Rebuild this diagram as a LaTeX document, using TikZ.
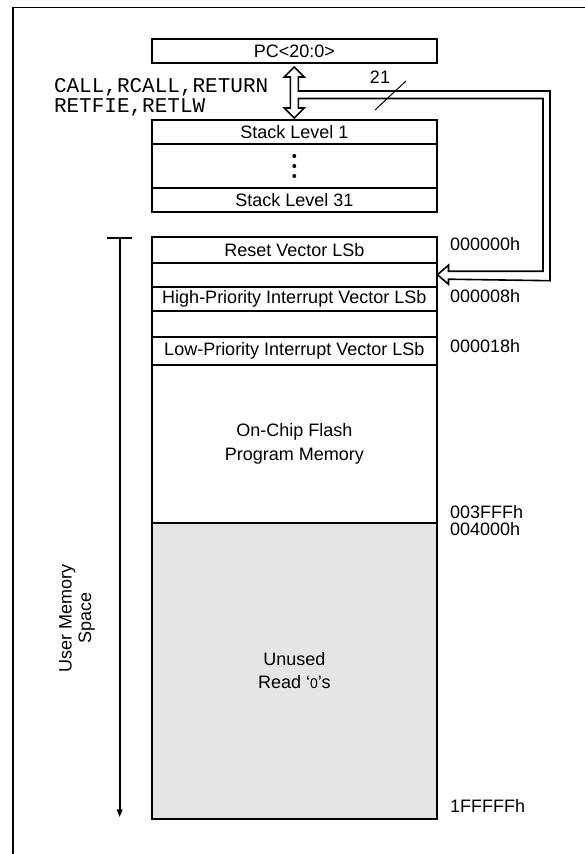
\documentclass[tikz,border=0pt]{standalone}
\usepackage{fontspec}
\setmainfont{Liberation Sans}
\newfontfamily\monofont{Liberation Mono}
\usetikzlibrary{arrows.meta,calc}
\definecolor{unusedgray}{RGB}{229,229,229}
\begin{document}
\begin{tikzpicture}[x=1pt,y=-1pt,
  every node/.style={inner sep=0pt, outer sep=0pt, font=\fontsize{18pt}{22pt}\selectfont},
  cell/.style={draw, line width=1.8pt, minimum width=285.3pt, anchor=north, align=center},
  addr/.style={anchor=west},
  bus/.style={line width=1.6pt, line join=miter},
  frameline/.style={line width=1.7pt}]
\useasboundingbox (0,0) rectangle (585,854);
% frame
\draw[frameline] (13,854) -- (13,7.5) -- (585,7.5);
% PC and stack
\node[cell, minimum height=24.3pt] (pc) at (294.3,39) {PC<20:0>};
\node[cell, minimum height=24.3pt] (s1) at (294.3,120) {Stack Level 1};
\node[cell, minimum height=43.4pt] (s2) at (s1.south) {};
\node[cell, minimum height=24.3pt] (s3) at (s2.south) {Stack Level 31};
\foreach \dy [count=\i] in {-10,0,10}
  \fill ($(s2.center)+(0,\dy)$) circle (2pt);
% label
\node[anchor=west, align=left, font=\monofont\fontsize{21pt}{20pt}\selectfont] (ops) at (54,97) {CALL,RCALL,RETURN\\RETFIE,RETLW};
% memory map
\node[cell, minimum height=25.7pt] (r1) at (294.3,237) {Reset Vector LSb};
\node[cell, minimum height=24pt] (r2) at (r1.south) {};
\node[cell, minimum height=24.3pt] (r3) at (r2.south) {High-Priority Interrupt Vector LSb};
\node[cell, minimum height=25.7pt] (r4) at (r3.south) {};
\node[cell, minimum height=28.3pt] (r5) at (r4.south) {Low-Priority Interrupt Vector LSb};
\node[cell, minimum height=157.7pt, font=\fontsize{18pt}{24pt}\selectfont] (r6) at (r5.south) {On-Chip Flash\\Program Memory};
\node[cell, minimum height=296.6pt, fill=unusedgray, font=\fontsize{18pt}{23pt}\selectfont] (r7) at (r6.south) {Unused\\Read ‘{\fontsize{14pt}{14pt}\selectfont 0}’s};
% addresses
\node[addr] (a0) at (450,244) {000000h};
\node[addr] (a8) at (450,296) {000008h};
\node[addr] (a18) at (450,346) {000018h};
\node[addr] (a3f) at (450,511.7) {003FFFh};
\node[addr] (a40) at (450,529.3) {004000h};
\node[addr] (a1f) at (450,806) {1FFFFFh};
% bus: double-headed arrow PC <-> stack, branch to memory
\coordinate (tA) at ([yshift=-3.7pt]pc.south);
\coordinate (tB) at ([yshift=2pt]s1.north);
\coordinate (tC) at ([xshift=0.5pt]r2.east);
\draw[bus] (tA) -- ($(tA)+(10,10)$) -- ($(tA)+(4,10)$) -- ($(tA)+(4,24)$)
  -- (550,91) -- (550,280.7) -- ($(tC)+(11,4.5)$) -- ($(tC)+(11,9.5)$) -- (tC)
  -- ($(tC)+(11,-9.5)$) -- ($(tC)+(11,-3.5)$) -- (543,271.2) -- (543,98.5)
  -- ($(tB)+(4,-19.5)$) -- ($(tB)+(4,-10)$) -- ($(tB)+(10,-10)$) -- (tB)
  -- ($(tB)+(-10,-10)$) -- ($(tB)+(-4,-10)$) -- ($(tA)+(-4,10)$) -- ($(tA)+(-10,10)$) -- cycle;
% bus width mark
\draw[line width=1pt] (375,110) -- (406,81);
\node (w21) at (380,77) {21};
% user memory space arrow
\coordinate (uTop) at ($(r1.north west)+(-32,1)$);
\coordinate (uBot) at ($(r7.south west)+(-32,-2)$);
\draw[line width=1.6pt] ($(uTop)+(-12.5,0)$) -- ($(uTop)+(12.5,0)$);
\draw[line width=1.8pt, -{Triangle[length=8pt,width=5.5pt]}] (uTop) -- (uBot);
\node[rotate=90, align=center, font=\fontsize{18pt}{19.5pt}\selectfont] (ums) at (77,618) {User Memory\\Space};
\end{tikzpicture}
\end{document}
